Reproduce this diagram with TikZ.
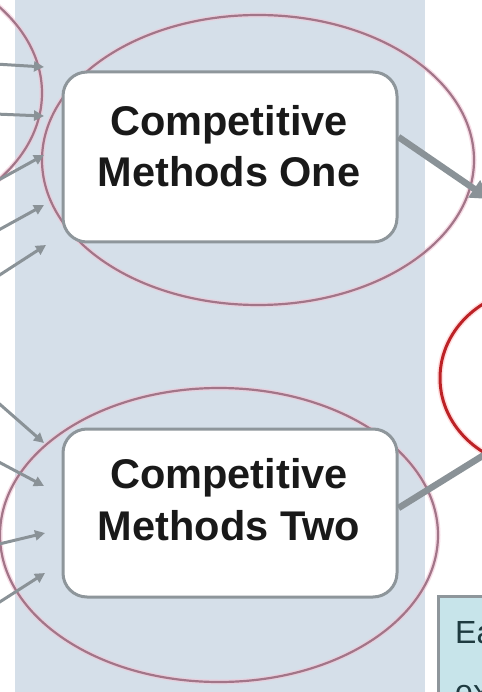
\documentclass[tikz,border=0pt]{standalone}
\usepackage{fontspec}
\setmainfont{Liberation Sans}
\usetikzlibrary{arrows.meta}
\definecolor{panel}{HTML}{D5DFE9}
\definecolor{ringc}{HTML}{A27588}
\definecolor{ringglow}{HTML}{F2C6D6}
\definecolor{boxline}{HTML}{8E969B}
\definecolor{arrowc}{HTML}{8A9297}
\definecolor{redring}{HTML}{BC2226}
\definecolor{notefill}{HTML}{C7E4EA}
\definecolor{notetext}{HTML}{1E3A40}
\begin{document}
\begin{tikzpicture}[x=1pt,y=-1pt,
  ring/.style={draw=ringc, line width=2.2pt, preaction={draw=ringglow, line width=5pt, opacity=0.6}},
  methodbox/.style={draw=boxline, line width=3pt, fill=white, rounded corners=24pt, minimum width=334pt, minimum height=170pt, inner sep=0pt},
  methodlabel/.style={font=\bfseries\fontsize{41.5}{50}\selectfont, text=black!90, anchor=base, inner sep=0pt},
  inarrow/.style={draw=arrowc, line width=3pt, -{Triangle[length=10pt,width=10pt]}},
  outarrow/.style={draw=arrowc, line width=6.5pt},
  notebox/.style={draw=boxline, line width=2.5pt, fill=notefill, inner sep=0pt},
  notelabel/.style={font=\fontsize{32}{38}\selectfont, text=notetext, anchor=base west, inner sep=0pt},
]
\useasboundingbox (0,0) rectangle (481,692);
\fill[white] (0,0) rectangle (481,692);
\fill[panel] (15,0) rectangle (425,692);

% rings
\draw[ring] (-160,93) ellipse [x radius=202pt, y radius=140pt];
\draw[ring] (258,160) ellipse [x radius=216pt, y radius=145pt];
\draw[ring] (219,535) ellipse [x radius=219pt, y radius=147pt];
\draw[draw=redring, line width=3pt, preaction={draw=red!25, line width=6pt, opacity=0.5}] (540,378) ellipse [x radius=100pt, y radius=90pt];

% boxes
\node[methodbox] (m1) at (230,157) {};
\node[methodlabel] (l1a) at (229,136) {Competitive};
\node[methodlabel] (l1b) at (229,187) {Methods One};
\node[methodbox, minimum height=168pt] (m2) at (230,513) {};
\node[methodlabel] (l2a) at (229,488) {Competitive};
\node[methodlabel] (l2b) at (229,540) {Methods Two};

% note box
\node[notebox, minimum width=90pt, minimum height=130pt, anchor=north west] (note) at (437,595) {};
\node[notelabel] (n1) at (455,643) {Ea};
\node[notelabel] (n2) at (455,702) {ex};

% incoming arrows
\foreach \i/\ya/\xb/\yb in {1/64/44/67, 2/114/44/116, 3/182/44/155, 4/232/44/205, 5/278/46/245,
                            6/400/44/443, 7/460/44/486, 8/545/45/533, 9/605/45/573} {
  \coordinate (s\i) at (-5,\ya);
  \coordinate (e\i) at (\xb,\yb);
  \draw[inarrow] (s\i) -- (e\i);
}

% outgoing arrows
\coordinate (o1) at (489,199);
\draw[outarrow, -{Triangle[length=18pt,width=20pt]}] (m1.east |- 0,137) -- (o1);
\coordinate (o2) at (492,450);
\draw[outarrow] (m2.east |- 0,508) -- (o2);
\end{tikzpicture}
\end{document}
